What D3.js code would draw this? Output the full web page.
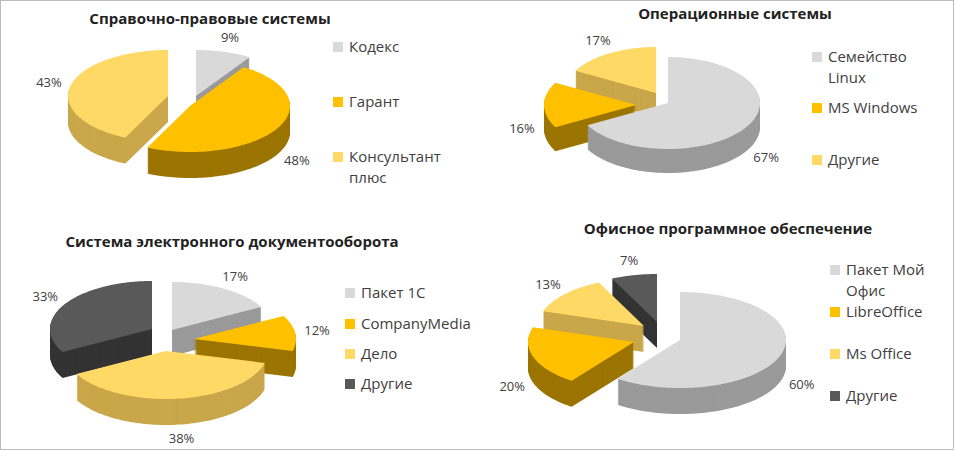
<!DOCTYPE html><html><head><meta charset="utf-8"><script src="https://cdn.jsdelivr.net/npm/d3@7"></script>
<style>body{margin:0;background:#fff}svg{display:block}</style></head><body>
<script>
const titles=["Справочно-правовые системы","Операционные системы","Система электронного документооборота","Офисное программное обеспечение"];
const cats1=["Кодекс","Гарант","Консультант плюс"], vals1=[9,48,43];
const cats2=["Семейство Linux","MS Windows","Другие"], vals2=[67,16,17];
const cats3=["Пакет 1С","CompanyMedia","Дело","Другие"], vals3=[17,12,38,33];
const cats4=["Пакет Мой Офис","LibreOffice","Ms Office","Другие"], vals4=[60,20,13,7];
const TOP={g:"#d9d9d9",o:"#ffc000",y:"#ffd966",d:"#595959"}, SIDE={g:"#9a9a9a",o:"#9c7400",y:"#c9a74a",d:"#333"};
const panels=[
 {cats:cats1,vals:vals1,col:["g","o","y"],cx:190,cy:102,rx:100,ry:46,dep:26,ex:[[6,-6],[0,4],[-22,-6]],tx:210,ty:24,
  lx:333,ly:[47,102,157],lines:[["Кодекс"],["Гарант"],["Консультант","плюс"]]},
 {cats:cats2,vals:vals2,col:["g","o","y"],cx:668,cy:103,rx:92,ry:46,dep:24,ex:[[0,0],[-32,2],[-12,-10]],tx:735,ty:19,
  lx:812,ly:[57,108,160],lines:[["Семейство","Linux"],["MS Windows"],["Другие"]]},
 {cats:cats3,vals:vals3,col:["g","o","y","d"],cx:172,cy:335,rx:102,ry:48,dep:26,ex:[[0,-5],[22,4],[-6,16],[-20,-6]],tx:232,ty:247,
  lx:345,ly:[293,324,354,384],lines:[["Пакет 1С"],["CompanyMedia"],["Дело"],["Другие"]]},
 {cats:cats4,vals:vals4,col:["g","o","y","d"],cx:662,cy:340,rx:106,ry:48,dep:26,ex:[[18,0],[-28,2],[-18,-14],[-5,-18]],tx:728,ty:234,
  lx:830,ly:[270,312,354,396],lines:[["Пакет Мой","Офис"],["LibreOffice"],["Ms Office"],["Другие"]]}
];
const svg=d3.select("body").append("svg").attr("width",954).attr("height",450);
svg.append("rect").attr("x",0.5).attr("y",0.5).attr("width",953).attr("height",449).attr("fill","#fff").attr("stroke","#bbb");
panels.forEach(p=>{
  const pie=d3.pie().sort(null).value(d=>d)(p.vals);
  const g=svg.append("g");
  function path(a0,a1,ox,oy){
    const n=Math.max(4,Math.ceil((a1-a0)/0.03));
    const pts=[[p.cx+ox,p.cy+oy]];
    for(let i=0;i<=n;i++){const a=a0+(a1-a0)*i/n;pts.push([p.cx+ox+p.rx*Math.sin(a),p.cy+oy-p.ry*Math.cos(a)]);}
    return "M"+pts.map(q=>q.join(",")).join("L")+"Z";
  }
  const order=pie.map((s,i)=>i).sort((a,b)=>{
    const m=s=>{const mid=(s.startAngle+s.endAngle)/2;return -Math.cos(mid)+p.ex[pie.indexOf(s)][1]/50;};
    return m(pie[a])-m(pie[b]);});
  order.forEach(i=>{
    const s=pie[i],[ox,oy]=p.ex[i];
    for(let d=p.dep;d>0;d-=1) g.append("path").attr("d",path(s.startAngle,s.endAngle,ox,oy+d)).attr("fill",SIDE[p.col[i]]);
    g.append("path").attr("d",path(s.startAngle,s.endAngle,ox,oy)).attr("fill",TOP[p.col[i]]);
  });
  pie.forEach((s,i)=>{
    const mid=(s.startAngle+s.endAngle)/2,[ox,oy]=p.ex[i];
    const x=p.cx+ox+(p.rx+22)*Math.sin(mid), y=p.cy+oy-(p.ry+14)*Math.cos(mid)+(Math.cos(mid)<0?p.dep:0)+4;
    g.append("text").attr("x",x).attr("y",y).attr("text-anchor","middle").attr("font-family","Open Sans, sans-serif").attr("font-size",13).attr("fill","#404040").text(s.data+"%");
  });
  svg.append("text").attr("x",p.tx).attr("y",p.ty).attr("text-anchor","middle").attr("font-family","Open Sans, sans-serif").attr("font-weight","bold").attr("font-size",15).attr("fill","#222").text(titles[panels.indexOf(p)]);
  p.cats.forEach((c,i)=>{
    svg.append("rect").attr("x",p.lx).attr("y",p.ly[i]-5).attr("width",10).attr("height",10).attr("fill",TOP[p.col[i]]);
    const t=svg.append("text").attr("x",p.lx+16).attr("y",p.ly[i]+5).attr("font-family","Open Sans, sans-serif").attr("font-size",15).attr("fill","#404040");
    p.lines[i].forEach((l,k)=>t.append("tspan").attr("x",p.lx+16).attr("dy",k?21:0).text(l));
  });
});
</script></body></html>
